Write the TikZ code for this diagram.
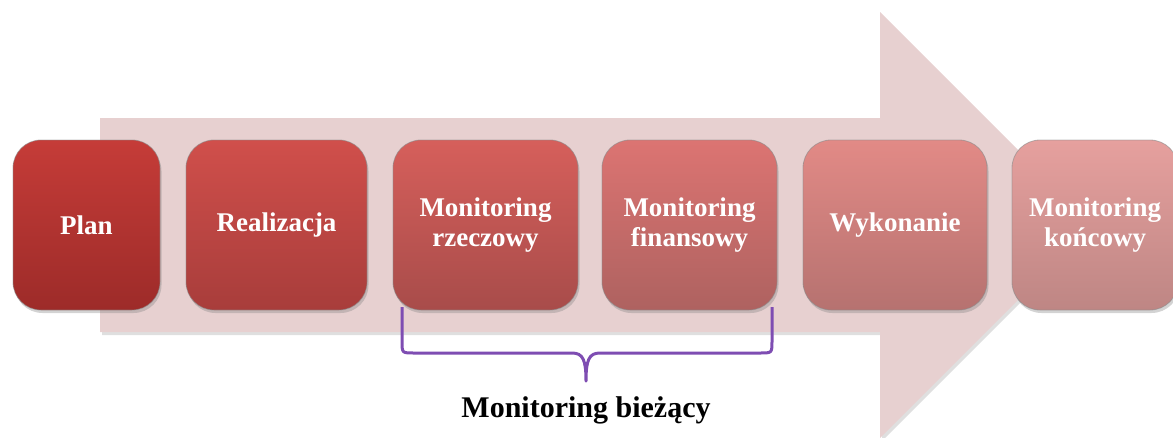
\documentclass[tikz,border=0pt]{standalone}
\usepackage{fontspec}
\setmainfont{Liberation Serif}
\usetikzlibrary{shadows}
\definecolor{arrowfill}{HTML}{E7D0D0}
\definecolor{bracecol}{HTML}{7E4DB2}
\tikzset{
  stagebox/.style={rounded corners=28pt, minimum height=170pt, inner sep=2pt,
    align=center, text=white, font=\fontsize{27}{30}\selectfont\bfseries,
    draw=black!45, line width=0.8pt, draw opacity=0.6,
    drop shadow={shadow xshift=1.5pt, shadow yshift=-3pt, opacity=0.35}},
  bracestyle/.style={draw=bracecol, line width=3pt, line join=round},
}
\begin{document}
\begin{tikzpicture}[x=1pt,y=-1pt]
\useasboundingbox (0,0) rectangle (1173,437);
% big arrow
\fill[arrowfill, drop shadow={shadow xshift=2pt, shadow yshift=-3pt, opacity=0.25}]
  (100,118) -- (880,118) -- (880,12) -- (1093,225) -- (880,438) -- (880,332) -- (100,332) -- cycle;
% boxes
\node[stagebox, minimum width=147pt, top color={rgb,255:red,197;green,60;blue,56}, bottom color={rgb,255:red,157;green,43;blue,41}] (plan) at (86.5,225) {Plan};
\node[stagebox, minimum width=181pt, top color={rgb,255:red,208;green,79;blue,75}, bottom color={rgb,255:red,168;green,61;blue,59}] (real) at (276.5,225) {Realizacja};
\node[stagebox, minimum width=185pt, top color={rgb,255:red,214;green,95;blue,91}, bottom color={rgb,255:red,168;green,76;blue,74}] (mr) at (485.5,225) {Monitoring\\rzeczowy};
\node[stagebox, minimum width=175pt, top color={rgb,255:red,220;green,116;blue,114}, bottom color={rgb,255:red,174;green,98;blue,96}] (mf) at (689.5,225) {Monitoring\\finansowy};
\node[stagebox, minimum width=184pt, top color={rgb,255:red,226;green,138;blue,134}, bottom color={rgb,255:red,182;green,114;blue,112}] (wyk) at (895,225) {Wykonanie};
\node[stagebox, minimum width=166pt, top color={rgb,255:red,230;green,160;blue,158}, bottom color={rgb,255:red,190;green,134;blue,132}] (mk) at (1095,225) {Monitoring\\końcowy};
% brace
\coordinate (bl) at (402,307);
\coordinate (br) at (772,307);
\coordinate (bm) at (586,381);
\draw[bracestyle] (bl) -- (402,341) .. controls (402,353) .. (414,353) -- (572,353)
  .. controls (583,353) and (586,360) .. (bm)
  .. controls (586,360) and (589,353) .. (600,353) -- (760,353)
  .. controls (772,353) .. (772,341) -- (br);
\node[font=\fontsize{30}{32}\selectfont\bfseries, text=black] (lbl) at (586,410) {Monitoring bieżący};
\end{tikzpicture}
\end{document}
